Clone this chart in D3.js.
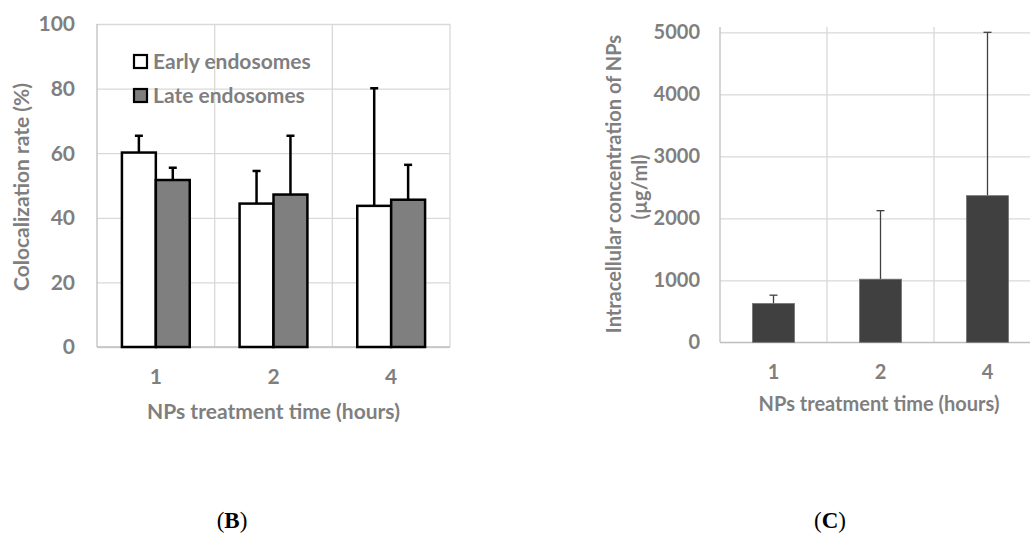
<!DOCTYPE html>
<html lang="en">
<head>
  <meta charset="UTF-8">
  <title>Colocalization and intracellular concentration</title>
  <style>
    body { margin: 0; background: #fff; }
    svg { display: block; }
    .lbl { font-family: Lato, "Open Sans", sans-serif; font-weight: bold; fill: #7f7f7f; }
    .cap { font-family: "Liberation Serif", serif; font-size: 23px; fill: #000; }
  </style>
</head>
<body>
  <div id="chart"></div>
  <script src="https://d3js.org/d3.v7.min.js"></script>
  <script>
    // panel B data
    const hours = ['1', '2', '4']
    const seriesB = ['Early endosomes', 'Late endosomes']
    const earlyMean = [60.2, 44.4, 43.7]
    const earlyErr = [5.2, 10.1, 36.4]
    const lateMean = [51.7, 47.2, 45.6]
    const lateErr = [3.8, 18.2, 10.8]
    const ticksB = [0, 20, 40, 60, 80, 100]

    // panel C data
    const concMean = [625, 1018, 2365]
    const concErr = [135, 1105, 2635]
    const ticksC = [0, 1000, 2000, 3000, 4000, 5000]

    const W = 1030, H = 534
    const svg = d3.select('#chart').append('svg')
      .attr('width', W).attr('height', H)

    const gridColor = '#d9d9d9'
    const fsB = '21px', fsC = '20px'

    // ---------- panel B ----------
    const xB = d3.scaleBand().domain(hours).range([97, 450])
    const subB = d3.scaleBand().domain(seriesB).range([0, xB.bandwidth()]).paddingOuter(0.735)
    const yB = d3.scaleLinear().domain([0, 100]).range([347, 24])

    const gB = svg.append('g')

    // horizontal grid
    gB.append('g')
      .attr('transform', `translate(97,0)`)
      .call(d3.axisLeft(yB).tickValues(ticksB).tickSize(-(450 - 97)).tickFormat(''))
      .call(g => g.select('.domain').remove())
      .call(g => g.selectAll('line').attr('stroke', gridColor).attr('stroke-width', 1.3))

    // vertical grid between categories
    gB.selectAll('.vgrid').data(hours).enter().append('line')
      .attr('x1', d => xB(d) + xB.bandwidth()).attr('x2', d => xB(d) + xB.bandwidth())
      .attr('y1', yB(100)).attr('y2', yB(0))
      .attr('stroke', gridColor).attr('stroke-width', 1.3)

    gB.append('line')
      .attr('x1', 97).attr('x2', 97).attr('y1', yB(100)).attr('y2', yB(0))
      .attr('stroke', '#bfbfbf').attr('stroke-width', 1.3)

    // x axis line
    gB.append('line')
      .attr('x1', 97).attr('x2', 450).attr('y1', yB(0)).attr('y2', yB(0))
      .attr('stroke', '#bfbfbf').attr('stroke-width', 1.3)

    // y tick labels
    gB.append('g').selectAll('text').data(ticksB).enter().append('text')
      .attr('class', 'lbl')
      .attr('x', 75).attr('y', d => yB(d)).attr('dy', '0.35em')
      .attr('text-anchor', 'end').style('font-size', fsB)
      .text(d => d)

    const rowsB = hours.map((h, i) => [
      { h, s: seriesB[0], v: earlyMean[i], e: earlyErr[i], fill: '#ffffff' },
      { h, s: seriesB[1], v: lateMean[i], e: lateErr[i], fill: '#7f7f7f' }
    ]).flat()

    // error bars behind bars
    const errB = gB.append('g').attr('stroke', '#000').attr('stroke-width', 2.5)
    rowsB.forEach(d => {
      const cx = xB(d.h) + subB(d.s) + subB.bandwidth() / 2
      errB.append('line').attr('x1', cx).attr('x2', cx).attr('y1', yB(d.v)).attr('y2', yB(d.v + d.e))
      errB.append('line').attr('x1', cx - 4).attr('x2', cx + 4).attr('y1', yB(d.v + d.e)).attr('y2', yB(d.v + d.e))
    })

    gB.append('g').selectAll('rect').data(rowsB).enter().append('rect')
      .attr('x', d => xB(d.h) + subB(d.s))
      .attr('y', d => yB(d.v))
      .attr('width', subB.bandwidth())
      .attr('height', d => yB(0) - yB(d.v))
      .attr('fill', d => d.fill)
      .attr('stroke', '#000').attr('stroke-width', 2.5)

    gB.append('g').selectAll('text').data(hours).enter().append('text')
      .attr('class', 'lbl')
      .attr('x', d => xB(d) + xB.bandwidth() / 2).attr('y', 377).attr('dy', '0.35em')
      .attr('text-anchor', 'middle').style('font-size', fsB)
      .text(d => d)

    gB.append('text').attr('class', 'lbl')
      .attr('x', 273.5).attr('y', 412).attr('dy', '0.35em')
      .attr('text-anchor', 'middle').style('font-size', fsB)
      .text('NPs treatment time (hours)')

    gB.append('text').attr('class', 'lbl')
      .attr('transform', 'translate(21.5,187) rotate(-90)').attr('dy', '0.35em')
      .attr('text-anchor', 'middle').style('font-size', fsB)
      .text('Colocalization rate (%)')

    // legend
    const leg = gB.append('g')
    seriesB.forEach((s, i) => {
      const y = 61.5 + i * 34
      leg.append('rect').attr('x', 134).attr('y', y - 6.5).attr('width', 13).attr('height', 13)
        .attr('fill', i === 0 ? '#fff' : '#7f7f7f').attr('stroke', '#000').attr('stroke-width', 2.2)
      leg.append('text').attr('class', 'lbl').attr('x', 153).attr('y', y).attr('dy', '0.35em')
        .style('font-size', fsB).text(s)
    })

    // ---------- panel C ----------
    const xC = d3.scaleBand().domain(hours).range([720, 1041]).paddingInner(0.607).paddingOuter(0.3035)
    const stepC = xC.step()
    const yC = d3.scaleLinear().domain([0, 5000]).range([342.3, 32.3])
    const topC = 27

    const gC = svg.append('g')

    gC.append('g')
      .attr('transform', `translate(720,0)`)
      .call(d3.axisLeft(yC).tickValues(ticksC).tickSize(-(1041 - 720)).tickFormat(''))
      .call(g => g.select('.domain').remove())
      .call(g => g.selectAll('line').attr('stroke', gridColor).attr('stroke-width', 1.3))

    gC.selectAll('.vgrid').data(hours).enter().append('line')
      .attr('x1', (d, i) => 720 + (i + 1) * stepC).attr('x2', (d, i) => 720 + (i + 1) * stepC)
      .attr('y1', topC).attr('y2', yC(0))
      .attr('stroke', gridColor).attr('stroke-width', 1.3)

    gC.append('line')
      .attr('x1', 720).attr('x2', 720).attr('y1', topC).attr('y2', yC(0))
      .attr('stroke', '#bfbfbf').attr('stroke-width', 1.3)

    gC.append('line')
      .attr('x1', 720).attr('x2', 1041).attr('y1', yC(0)).attr('y2', yC(0))
      .attr('stroke', '#bfbfbf').attr('stroke-width', 1.3)

    gC.append('g').selectAll('text').data(ticksC).enter().append('text')
      .attr('class', 'lbl')
      .attr('x', 700).attr('y', d => yC(d)).attr('dy', '0.35em')
      .attr('text-anchor', 'end').style('font-size', fsC)
      .text(d => d)

    const rowsC = hours.map((h, i) => ({ h, v: concMean[i], e: concErr[i] }))

    const errC = gC.append('g').attr('stroke', '#404040').attr('stroke-width', 1.3)
    rowsC.forEach(d => {
      const cx = xC(d.h) + xC.bandwidth() / 2
      errC.append('line').attr('x1', cx).attr('x2', cx).attr('y1', yC(d.v)).attr('y2', yC(d.v + d.e))
      errC.append('line').attr('x1', cx - 4).attr('x2', cx + 4).attr('y1', yC(d.v + d.e)).attr('y2', yC(d.v + d.e))
    })

    gC.append('g').selectAll('rect').data(rowsC).enter().append('rect')
      .attr('x', d => xC(d.h))
      .attr('y', d => yC(d.v))
      .attr('width', xC.bandwidth())
      .attr('height', d => yC(0) - yC(d.v))
      .attr('fill', '#404040')
      .attr('stroke', '#737373').attr('stroke-width', 0.8)

    gC.append('g').selectAll('text').data(hours).enter().append('text')
      .attr('class', 'lbl')
      .attr('x', d => xC(d) + xC.bandwidth() / 2).attr('y', 372).attr('dy', '0.35em')
      .attr('text-anchor', 'middle').style('font-size', fsC)
      .text(d => d)

    gC.append('text').attr('class', 'lbl')
      .attr('x', 879).attr('y', 403.5).attr('dy', '0.35em')
      .attr('text-anchor', 'middle').style('font-size', fsC)
      .text('NPs treatment time (hours)')

    gC.append('text').attr('class', 'lbl')
      .attr('transform', 'translate(613.5,184) rotate(-90)').attr('dy', '0.35em')
      .attr('text-anchor', 'middle').style('font-size', fsC)
      .text('Intracellular concentration of NPs')
    gC.append('text').attr('class', 'lbl')
      .attr('transform', 'translate(640,187) rotate(-90)').attr('dy', '0.35em')
      .attr('text-anchor', 'middle').style('font-size', fsC)
      .text('(µg/ml)')

    // captions
    const caps = [{ x: 232, t: 'B' }, { x: 830, t: 'C' }]
    caps.forEach(c => {
      const t = svg.append('text').attr('class', 'cap')
        .attr('x', c.x).attr('y', 528).attr('text-anchor', 'middle')
      t.append('tspan').text('(')
      t.append('tspan').style('font-weight', 'bold').text(c.t)
      t.append('tspan').text(')')
    })
  </script>
</body>
</html>
